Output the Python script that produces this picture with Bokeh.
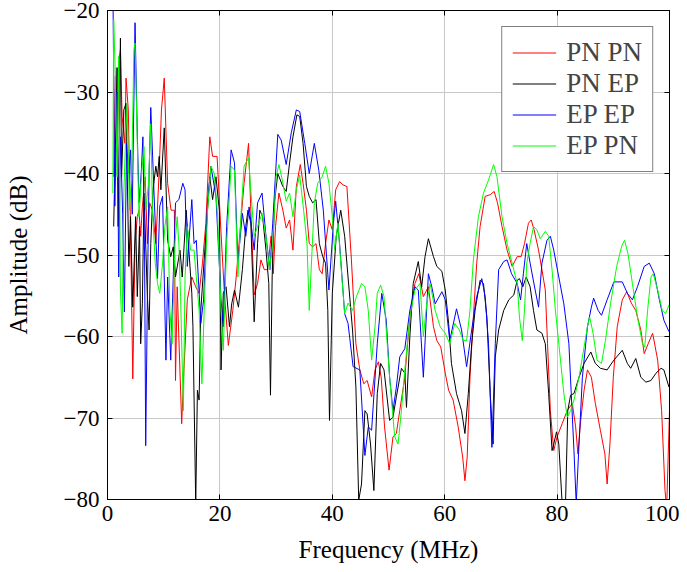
from bokeh.plotting import figure
from bokeh.models import Range1d, LinearAxis, FixedTicker, Legend, LegendItem
from bokeh.embed import file_html
from bokeh.resources import INLINE

# ---- data ----
f_pnpn = [1.1,1.4,1.7,2.1,2.3,2.6,3.1,3.3,3.7,4.1,4.5,4.9,5.3,5.6,5.9,6.2,6.7,7.1,7.5,8.0,8.6,9.2,9.6,10.1,10.7,11.3,11.9,12.1,12.4,13.2,13.6,14.2,15.0,15.7,16.3,16.9,17.5,18.2,18.7,19.5,20.2,20.8,21.5,22.3,22.9,23.4,24.3,25.1,
          25.5,26.1,26.7,27.3,27.9,28.5,29.1,29.5,29.9,30.5,31.2,31.8,32.4,33.0,33.6,34.3,34.8,35.4,35.9,36.5,37.1,37.7,38.2,38.8,39.4,40.0,40.6,41.3,41.9,42.6,43.4,44.2,44.9,45.6,46.2,47.0,47.6,48.2,48.7,49.3,50.1,
          50.8,51.4,52.0,52.9,53.8,54.7,55.4,56.2,57.1,58.0,58.6,59.3,60.1,60.7,61.5,62.4,63.2,63.6,64.0,64.5,65.1,65.7,66.3,67.2,68.1,68.8,69.4,70.2,71.1,72.0,72.9,73.6,74.2,74.9,
          75.4,75.9,76.7,77.3,77.9,78.3,78.8,79.4,80.0,80.9,81.8,82.7,83.3,83.7,84.2,84.8,85.4,86.1,86.8,87.7,88.5,88.9,89.4,90.0,90.7,91.6,92.4,93.2,94.0,94.9,95.5,96.2,97.0,97.9,98.6,99.2,99.5,100.0]
a_pnpn = [-40.4,-28.1,-37.5,-26.0,-24.8,-33.0,-36.3,-28.3,-32.2,-46.9,-65.2,-48.6,-45.3,-44.5,-47.7,-44.1,-40.4,-48.6,-43.6,-44.5,-48.6,-39.6,-32.2,-28.3,-41.2,-44.5,-44.5,-65.4,-53.9,-70.7,-64.1,-55.5,-52.7,-53.9,-54.7,-51.0,-46.1,-35.5,-37.9,-37.9,-47.3,-54.7,-61.1,-56.8,-52.7,-48.6,-41.2,-36.3,
          -44.5,-54.9,-53.5,-50.6,-51.8,-51.8,-47.7,-52.3,-46.5,-42.4,-44.5,-46.7,-45.7,-49.4,-41.6,-38.9,-41.2,-44.5,-48.6,-49.0,-48.6,-51.8,-52.3,-48.6,-45.7,-46.9,-42.0,-41.0,-41.4,-41.6,-50.6,-60.9,-64.1,-65.8,-65.4,-67.4,-64.1,-63.1,-65.0,-71.1,-76.4,
          -72.3,-71.9,-69.1,-65.0,-57.6,-53.5,-52.3,-55.1,-53.9,-58.8,-60.5,-61.3,-64.5,-66.6,-67.8,-71.1,-74.8,-77.7,-74.8,-65.0,-57.6,-51.0,-46.5,-42.8,-42.6,-42.2,-43.6,-46.5,-49.4,-51.4,-50.2,-50.2,-48.6,-46.1,
          -45.7,-46.9,-49.4,-51.8,-54.3,-60.9,-69.1,-74.0,-72.3,-70.7,-69.1,-68.2,-71.1,-74.4,-70.3,-66.6,-64.1,-65.0,-68.2,-71.5,-74.4,-78.1,-73.2,-65.0,-58.8,-55.5,-54.5,-55.9,-56.8,-59.2,-62.1,-60.9,-59.6,-62.9,-69.1,-78.9,-81.0,-69.1]

f_pnep = [1.1,1.7,1.9,2.3,2.5,2.9,3.3,3.8,4.1,4.5,5.0,5.3,5.7,5.9,6.2,6.5,7.1,7.4,7.7,8.1,8.6,8.9,9.2,9.5,10.1,10.7,11.25,11.7,12.1,12.9,13.3,14.0,14.4,15.0,15.2,15.7,16.0,16.3,16.6,17.2,17.8,18.2,18.7,19.3,19.9,20.2,20.6,21.1,21.7,22.1,22.6,23.3,24.0,24.6,25.0,
          25.5,26.1,26.7,27.1,27.6,28.2,28.7,29.0,29.3,29.7,30.3,31.2,31.8,32.4,33.0,33.7,34.2,34.8,35.4,35.9,36.5,37.1,37.7,38.3,38.8,39.2,39.5,40.0,40.7,41.5,42.2,42.8,43.6,44.2,44.7,45.2,45.8,46.2,46.8,47.4,48.0,48.6,49.2,
          50.2,50.8,51.4,52.3,52.9,53.2,53.8,54.4,55.3,55.9,56.5,57.1,58.0,58.6,59.5,60.1,60.7,61.2,62.1,63.0,63.6,64.2,64.8,65.4,66.3,66.9,67.5,68.1,68.6,69.0,69.6,70.5,71.4,72.3,72.9,73.3,73.9,74.5,
          75.2,75.8,76.4,77.3,77.9,78.5,79.1,79.4,79.9,80.3,80.9,81.5,81.9,82.4,83.0,83.9,84.8,86.0,86.8,87.7,88.9,90.1,91.6,92.5,93.1,94.0,94.9,95.8,96.7,97.6,98.5,99.0,99.9]
a_pnep = [-46.5,-27.0,-46.5,-23.4,-40.4,-32.2,-31.4,-51.4,-45.3,-56.4,-45.3,-55.1,-46.5,-60.9,-56.0,-42.4,-55.1,-59.2,-48.6,-42.0,-39.1,-40.4,-37.9,-42.0,-34.4,-48.2,-50.2,-49.0,-52.7,-49.4,-52.7,-44.5,-48.6,-54.7,-58.8,-80.5,-66.6,-67.8,-56.8,-50.6,-44.5,-40.4,-43.2,-40.4,-44.5,-64.1,-54.7,-53.9,-58.8,-56.0,-54.3,-56.4,-51.8,-46.5,-44.5,
          -46.1,-58.2,-48.6,-44.5,-45.3,-49.4,-53.5,-67.2,-52.7,-43.6,-40.0,-41.6,-42.2,-38.7,-35.5,-32.8,-33.0,-36.3,-41.6,-42.8,-43.6,-43.2,-48.6,-50.2,-51.0,-56.8,-70.3,-54.7,-47.7,-44.5,-47.7,-52.7,-59.2,-66.2,-80.1,-78.1,-69.1,-69.5,-73.2,-78.9,-67.0,-63.3,-64.1,
          -70.3,-69.9,-67.4,-63.9,-64.5,-68.7,-60.0,-53.5,-50.8,-53.9,-50.2,-48.0,-50.2,-51.4,-52.0,-54.3,-58.4,-63.3,-67.0,-69.1,-71.9,-67.0,-60.9,-56.8,-53.1,-53.5,-57.6,-67.0,-73.2,-62.5,-59.2,-56.8,-55.5,-54.9,-53.1,-52.9,-53.9,-52.7,
          -53.9,-56.8,-59.2,-59.6,-60.9,-67.0,-74.0,-73.2,-71.7,-73.2,-80.5,-80.5,-69.1,-67.2,-67.0,-65.0,-63.3,-61.9,-63.3,-63.9,-64.1,-62.9,-61.7,-63.3,-63.9,-62.7,-65.0,-65.6,-65.4,-64.5,-63.9,-64.1,-66.2]

f_epep = [1.0,1.3,1.7,2.0,2.3,2.7,3.0,3.4,3.8,4.1,4.4,4.9,5.3,5.6,6.0,6.3,6.6,6.8,7.1,7.4,7.7,8.3,8.9,9.3,9.8,10.4,10.7,11.25,12.1,12.7,13.4,13.8,14.2,15.0,15.4,15.8,16.6,17.1,17.8,18.4,19.3,20.2,20.6,21.2,22.0,22.6,23.2,24.0,24.6,
          25.2,26.1,26.7,27.5,28.2,28.9,29.4,30.3,30.9,31.8,32.7,33.6,34.2,35.1,35.9,36.8,37.6,38.4,39.4,40.2,40.6,41.3,42.2,42.8,43.7,44.9,45.8,46.4,47.0,48.0,48.8,49.6,
          50.2,50.8,51.4,52.0,52.9,53.8,54.7,55.3,56.2,57.1,57.7,58.3,59.5,60.1,60.9,62.1,63.0,63.9,64.8,65.7,66.6,67.2,67.8,68.4,69.0,69.6,70.5,71.1,71.9,72.9,73.5,74.0,74.6,
          75.2,76.1,76.7,77.3,78.2,78.8,79.4,80.3,81.2,82.1,83.0,83.4,83.9,84.5,85.4,86.1,86.5,87.3,87.9,88.9,90.1,91.6,92.5,93.4,94.3,95.5,96.4,97.3,98.2,99.0,99.9]
a_epep = [-20.0,-44.0,-30.0,-52.7,-35.5,-45.0,-57.0,-36.3,-40.0,-37.1,-45.0,-21.5,-35.0,-43.6,-40.0,-35.5,-50.0,-73.4,-55.0,-40.0,-31.9,-42.8,-52.9,-44.0,-42.8,-62.9,-52.7,-62.9,-43.6,-43.2,-41.2,-42.0,-51.4,-43.2,-48.6,-48.2,-58.4,-55.5,-43.6,-39.1,-42.8,-55.5,-58.8,-46.5,-37.1,-38.7,-51.0,-44.9,-47.7,
          -44.1,-49.4,-43.6,-42.4,-47.7,-51.8,-46.1,-35.2,-35.9,-38.9,-35.0,-32.2,-32.4,-36.3,-40.0,-36.3,-39.6,-44.5,-54.3,-46.1,-43.4,-48.6,-57.2,-58.4,-63.7,-64.1,-74.6,-71.1,-71.5,-60.9,-54.7,-58.0,
          -65.0,-69.1,-66.2,-62.5,-61.5,-56.8,-53.9,-54.3,-65.0,-52.3,-53.9,-56.0,-54.5,-55.5,-60.5,-56.6,-59.2,-63.7,-59.2,-55.1,-52.9,-55.1,-60.9,-73.6,-60.9,-51.8,-50.8,-50.6,-52.3,-53.5,-55.5,-52.3,-48.6,
          -51.0,-54.3,-56.4,-51.0,-48.2,-47.7,-49.4,-52.7,-56.0,-60.9,-74.0,-80.5,-73.2,-65.0,-58.8,-56.4,-55.3,-56.8,-57.4,-55.5,-53.3,-53.3,-54.7,-55.5,-53.9,-51.4,-51.0,-52.3,-55.5,-58.0,-59.4]

f_eppn = [0.95,1.1,1.4,1.7,2.0,2.3,2.6,2.9,3.2,3.5,3.9,4.3,4.7,4.9,5.3,5.6,6.1,6.5,6.8,7.3,7.7,8.0,8.5,8.9,9.3,9.8,10.2,10.7,11.1,11.5,12.0,12.4,12.7,13.0,13.5,13.8,14.2,14.8,15.4,15.8,16.3,16.8,17.2,17.8,18.4,19.0,19.6,20.2,20.6,21.2,22.0,22.6,23.2,23.8,24.3,25.1,
          25.5,26.1,26.7,27.5,28.2,28.8,29.4,30.0,30.5,31.1,31.8,32.4,33.0,33.6,34.2,34.9,35.5,35.9,36.4,36.8,37.4,38.2,38.8,39.4,40.0,40.4,41.0,41.6,42.2,42.8,43.6,44.3,45.2,45.8,46.4,47.0,47.6,48.0,48.6,49.2,49.6,
          50.2,51.1,51.7,52.3,52.9,53.8,54.7,55.6,56.2,56.8,57.4,58.3,59.2,60.1,60.9,61.8,62.6,63.3,63.9,64.5,65.1,66.0,66.9,67.8,68.7,69.3,70.2,71.1,72.0,72.9,73.3,73.8,74.2,74.6,
          75.2,75.8,76.4,77.0,77.9,78.5,79.1,79.7,80.6,81.2,81.8,82.4,83.0,83.9,84.8,85.4,85.8,86.4,87.1,87.9,88.6,89.5,90.6,91.5,92.0,92.6,93.4,94.3,95.2,95.6,96.1,96.7,97.1,97.9,98.7,99.3,100.0]
a_eppn = [-42.4,-21.1,-28.1,-40.4,-25.6,-54.3,-59.6,-42.4,-36.3,-31.4,-44.5,-40.4,-24.8,-24.0,-36.3,-45.3,-39.6,-36.7,-44.5,-41.2,-33.9,-44.5,-51.0,-53.5,-54.7,-51.0,-46.5,-44.1,-56.8,-60.9,-48.6,-45.3,-48.6,-55.1,-69.1,-52.7,-46.5,-49.4,-49.4,-52.7,-56.8,-65.8,-56.8,-44.5,-39.1,-40.0,-45.3,-56.8,-61.7,-48.6,-39.1,-39.6,-52.7,-44.5,-39.1,-38.1,
          -42.0,-47.7,-46.5,-44.9,-47.7,-51.8,-48.6,-40.4,-38.9,-40.8,-43.4,-42.4,-45.3,-42.0,-40.2,-44.5,-48.6,-56.8,-49.4,-43.6,-41.2,-40.4,-39.1,-41.2,-45.3,-49.4,-46.1,-51.8,-57.2,-55.9,-56.8,-55.1,-53.5,-53.9,-56.8,-62.9,-58.8,-54.7,-53.7,-55.1,-59.2,
          -65.0,-72.3,-73.2,-69.1,-64.1,-57.6,-54.3,-53.5,-60.0,-56.0,-53.5,-56.8,-58.8,-59.6,-60.9,-58.4,-59.2,-60.5,-60.5,-56.8,-50.6,-45.3,-42.4,-40.8,-38.9,-40.4,-45.3,-48.6,-51.0,-53.5,-57.6,-60.5,-56.8,-51.0,
          -48.6,-46.5,-46.9,-48.0,-47.1,-47.7,-51.8,-56.8,-62.9,-67.0,-69.9,-69.1,-67.8,-65.0,-61.3,-58.8,-57.6,-59.6,-62.9,-63.3,-60.5,-56.0,-51.4,-48.9,-48.2,-49.8,-53.5,-57.6,-60.9,-61.3,-56.8,-52.7,-52.3,-54.3,-56.8,-57.2,-56.0]

series_names = ["PN PN", "PN EP", "EP EP", "EP PN"]
series_colors = ["#ff0000", "#000000", "#0000ff", "#00ff00"]
x_ticks = [0, 20, 40, 60, 80, 100]
y_ticks = [-80, -70, -60, -50, -40, -30, -20]

FONT = "Liberation Serif"

p = figure(width=679, height=572, output_backend="svg", toolbar_location=None,
           x_range=Range1d(0, 100), y_range=Range1d(-80, -20),
           min_border_left=107, min_border_right=10, min_border_top=10, min_border_bottom=73)
p.background_fill_color = "white"
p.border_fill_color = "white"
p.outline_line_color = "black"
p.outline_line_width = 1

renderers = []
for fx, ay, c in zip([f_pnpn, f_pnep, f_epep, f_eppn], [a_pnpn, a_pnep, a_epep, a_eppn], series_colors):
    r = p.line(fx, ay, line_color=c, line_width=1)
    renderers.append(r)

for ax, ticks in ((p.xaxis[0], x_ticks), (p.yaxis[0], y_ticks)):
    ax.ticker = FixedTicker(ticks=ticks)
    ax.major_label_overrides = {t: (str(t).replace("-", "\u2212")) for t in ticks}
    ax.major_tick_in = 5
    ax.major_tick_out = 0
    ax.minor_tick_in = 0
    ax.minor_tick_out = 0
    ax.axis_line_color = "black"
    ax.major_tick_line_color = "black"
    ax.major_label_text_font = FONT
    ax.major_label_text_font_size = "23px"
    ax.major_label_text_color = "black"
    ax.axis_label_text_font = FONT
    ax.axis_label_text_font_size = "25px"
    ax.axis_label_text_font_style = "normal"
    ax.axis_label_text_color = "black"

p.xaxis.axis_label = "Frequency (MHz)"
p.yaxis.axis_label = "Amplitude (dB)"
p.xaxis.major_label_standoff = 6
p.yaxis.major_label_standoff = 8
p.xaxis.axis_label_standoff = 12
p.yaxis.axis_label_standoff = 29

for loc, ticks in (("above", x_ticks), ("right", y_ticks)):
    a = LinearAxis(ticker=FixedTicker(ticks=ticks), major_tick_in=5, major_tick_out=0,
                   minor_tick_in=0, minor_tick_out=0, major_label_text_font_size="1px",
                   major_label_overrides={t: "" for t in ticks},
                   major_label_standoff=0, axis_line_color="black", major_tick_line_color="black")
    p.add_layout(a, loc)

p.xgrid.ticker = FixedTicker(ticks=x_ticks)
p.ygrid.ticker = FixedTicker(ticks=y_ticks)
p.grid.grid_line_color = "#c8c8c8"
p.grid.grid_line_width = 1

legend = Legend(items=[LegendItem(label=n, renderers=[r]) for n, r in zip(series_names, renderers)],
                location="top_right")
legend.label_text_font = FONT
legend.label_text_font_size = "27px"
legend.glyph_width = 44
legend.glyph_height = 31
legend.label_height = 31
legend.label_standoff = 10
legend.spacing = 0
legend.padding = 10
legend.margin = 16
legend.border_line_color = "black"
legend.border_line_width = 1
legend.background_fill_alpha = 1
p.add_layout(legend)

open("out.html", "w").write(file_html(p, INLINE))
